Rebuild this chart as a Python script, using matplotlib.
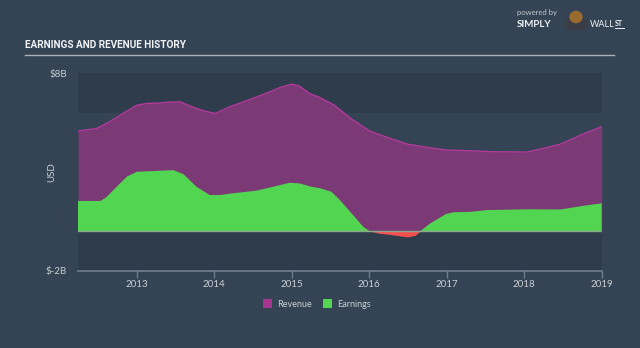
import matplotlib
matplotlib.use("Agg")
import matplotlib.pyplot as plt
from matplotlib.patches import Patch, Circle, Ellipse
import numpy as np

# Revenue (USD billions), trailing twelve months
rev_t = [2012.24, 2012.48, 2012.65, 2012.82, 2013.0, 2013.13, 2013.26, 2013.39, 2013.56,
         2013.73, 2013.86, 2014.01, 2014.2, 2014.46, 2014.72, 2014.85, 2015.0, 2015.1,
         2015.23, 2015.36, 2015.55, 2015.76, 2016.0, 2016.23, 2016.49, 2016.75, 2016.99,
         2017.31, 2017.61, 2018.04, 2018.22, 2018.47, 2018.73, 2019.0]
revenue = [5.06, 5.19, 5.53, 5.95, 6.37, 6.46, 6.47, 6.52, 6.54,
           6.26, 6.09, 5.95, 6.29, 6.66, 7.05, 7.27, 7.44, 7.33,
           6.96, 6.76, 6.37, 5.70, 5.07, 4.74, 4.40, 4.23, 4.10,
           4.06, 4.01, 4.00, 4.16, 4.40, 4.86, 5.28]

# Earnings (USD billions), trailing twelve months
earn_t = [2012.24, 2012.53, 2012.6, 2012.74, 2012.87, 2013.0, 2013.47, 2013.6, 2013.77,
          2013.94, 2014.07, 2014.24, 2014.54, 2014.76, 2014.97, 2015.1, 2015.25, 2015.36,
          2015.51, 2015.62, 2015.79, 2015.92, 2016.0, 2016.13, 2016.26, 2016.49, 2016.59,
          2016.66, 2016.79, 2016.99, 2017.09, 2017.31, 2017.52, 2018.04, 2018.47, 2018.77,
          2019.0]
earnings = [1.52, 1.52, 1.69, 2.24, 2.75, 3.00, 3.08, 2.88, 2.24,
            1.82, 1.82, 1.91, 2.04, 2.24, 2.44, 2.41, 2.24, 2.17,
            1.99, 1.57, 0.81, 0.22, 0.00, -0.12, -0.17, -0.30, -0.22,
            0.00, 0.39, 0.86, 0.95, 0.97, 1.06, 1.10, 1.09, 1.28,
            1.40]

year_ticks = [2013, 2014, 2015, 2016, 2017, 2018, 2019]
y_ticks = [-2, 8]
y_tick_labels = ["$-2B", "$8B"]
legend_labels = ["Revenue", "Earnings"]

BG = "#344455"
BAND = "#2e3c4b"
TEXT = "#c9ced4"
REV_FILL = "#7b3a76"
REV_LINE = "#b4399c"
EARN_FILL = "#52d651"
LOSS_FILL = "#f2504f"

fig = plt.figure(figsize=(6.4, 3.48), dpi=100, facecolor=BG)
ax = fig.add_axes([78 / 640, 1 - 270.5 / 348, (601.7 - 78) / 640, (270.5 - 73) / 348])
ax.set_facecolor(BG)

ax.set_xlim(2012.24, 2019.0)
ax.set_ylim(-2, 8)

# darker horizontal bands above 6B and below 0
ax.axhspan(6, 8, color=BAND, lw=0, zorder=0)
ax.axhspan(-2, 0, color=BAND, lw=0, zorder=0)

rt = np.array(rev_t)
rv = np.array(revenue)
et = np.array(earn_t)
ev = np.array(earnings)

ax.fill_between(rt, 0, rv, color=REV_FILL, lw=0, zorder=2)
ax.plot(rt, rv, color=REV_LINE, lw=1.0, zorder=3)

ax.fill_between(et, 0, ev, where=ev >= 0, interpolate=True, color=EARN_FILL, lw=0, zorder=4)
ax.fill_between(et, 0, ev, where=ev <= 0, interpolate=True, color=LOSS_FILL, lw=0, zorder=4)
ax.axhline(0, color="#8fa88c", lw=1.0, zorder=5)

for s in ["top", "right", "left"]:
    ax.spines[s].set_visible(False)
ax.spines["bottom"].set_color("#6f7f91")
ax.spines["bottom"].set_linewidth(1.2)

ax.set_xticks(year_ticks)
ax.set_xticklabels([str(y) for y in year_ticks])
ax.tick_params(axis="x", colors="#6f7f91", length=5, width=1, labelcolor=TEXT,
               labelsize=7, pad=2)
ax.set_yticks(y_ticks)
ax.set_yticklabels(y_tick_labels)
ax.tick_params(axis="y", length=0, labelcolor=TEXT, labelsize=7, pad=8)
for lab in ax.get_xticklabels() + ax.get_yticklabels():
    lab.set_family("Lato")

fig.text(52 / 640, 1 - 172 / 348, "USD", rotation=90, color=TEXT, fontsize=7,
         ha="center", va="center", family="Lato")

# title and rule
fig.text(25 / 640, 1 - 45.5 / 348, "EARNINGS AND REVENUE HISTORY", color="#f0f2f4",
         fontsize=7.2, fontweight="bold", family="Roboto", fontstretch="condensed",
         ha="left", va="center")
fig.add_artist(plt.Line2D([25 / 640, 614 / 640], [1 - 54.5 / 348] * 2,
                          color="#aab3bd", lw=1.0))

# brand mark
fig.text(517 / 640, 1 - 12 / 348, "powered by", color="#c0c6cc", fontsize=5.5,
         ha="left", va="center", family="Lato")
fig.text(517 / 640, 1 - 24.5 / 348, "SIMPLY", color="#eef0f2", fontsize=7,
         fontweight="bold", ha="left", va="center", family="Lato")
fig.add_artist(Circle((576 / 640, 1 - 24 / 348), 11 / 640,
                      transform=fig.transFigure, color="#3b3f45"))
fig.add_artist(Ellipse((576 / 640, 1 - 17 / 348), 12 / 640, 11 / 348,
                       transform=fig.transFigure, color="#9a6b2e"))
fig.text(590 / 640, 1 - 24.5 / 348, "WALL", color="#eef0f2", fontsize=6.5,
         ha="left", va="center", family="Lato")
fig.text(614.5 / 640, 1 - 23.5 / 348, "ST", color="#eef0f2", fontsize=5,
         fontweight="bold", ha="left", va="center", family="Lato")
fig.add_artist(plt.Line2D([614.5 / 640, 624 / 640], [1 - 28 / 348] * 2,
                          color="#eef0f2", lw=0.7))

# legend
handles = [Patch(facecolor="#a8358f", edgecolor="none"),
           Patch(facecolor=EARN_FILL, edgecolor="none")]
leg = fig.legend(handles, legend_labels, loc="center", bbox_to_anchor=(317 / 640, 1 - 304 / 348),
                 ncol=2, frameon=False, handlelength=1.0, handleheight=1.0,
                 handletextpad=0.5, columnspacing=1.3, prop={"family": "Lato", "size": 6.5})
for t in leg.get_texts():
    t.set_color(TEXT)

fig.savefig("out.png", dpi=100, facecolor=BG)
